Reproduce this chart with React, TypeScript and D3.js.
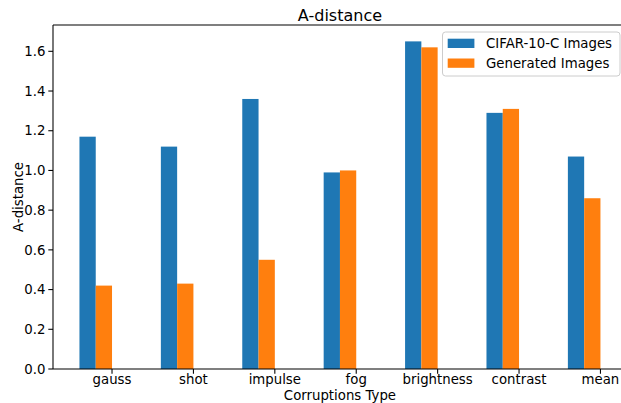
import React from "react";
import * as d3 from "d3";

const categories = ["gauss", "shot", "impulse", "fog", "brightness", "contrast", "mean"];
const cifarValues = [1.17, 1.12, 1.36, 0.99, 1.65, 1.29, 1.07];
const generatedValues = [0.42, 0.43, 0.55, 1.0, 1.62, 1.31, 0.86];
const yTicks = [0, 0.2, 0.4, 0.6, 0.8, 1.0, 1.2, 1.4, 1.6];
const seriesNames = ["CIFAR-10-C Images", "Generated Images"];
const colors = ["#1f77b4", "#ff7f0e"];

const W = 621;
const H = 403;
const left = 53;
const right = 626.9;
const top = 25;
const bottom = 369;
const barW = 0.2;
const font = "DejaVu Sans, sans-serif";

export default function App() {
  const x = d3.scaleLinear().domain([-0.725, 6.325]).range([left, right]);
  const y = d3.scaleLinear().domain([0, 1.7325]).range([bottom, top]);
  const fmt = d3.format(".1f");
  const series = [cifarValues, generatedValues];

  return (
    <svg
      width={W}
      height={H}
      style={{ position: "absolute", left: 0, top: 0, background: "#fff" }}
      fontFamily={font}
    >
      <rect x={0} y={0} width={W} height={H} fill="#fff" />
      {/* bars */}
      {series.map((vals, s) =>
        vals.map((v, i) => {
          const x0 = x(i - 0.4 + s * barW);
          const x1 = x(i - 0.4 + (s + 1) * barW);
          return (
            <rect
              key={`${s}-${i}`}
              x={x0}
              y={y(v)}
              width={x1 - x0}
              height={y(0) - y(v)}
              fill={colors[s]}
            />
          );
        })
      )}
      {/* spines */}
      <line x1={left} x2={right} y1={bottom} y2={bottom} stroke="#000" strokeWidth={1.07} />
      <line x1={left} x2={right} y1={top} y2={top} stroke="#000" strokeWidth={1.07} />
      <line x1={left} x2={left} y1={top} y2={bottom} stroke="#000" strokeWidth={1.07} />
      <line x1={right} x2={right} y1={top} y2={bottom} stroke="#000" strokeWidth={1.07} />
      {/* y ticks */}
      {yTicks.map((t) => (
        <g key={t}>
          <line x1={left - 4.7} x2={left} y1={y(t)} y2={y(t)} stroke="#000" strokeWidth={1.07} />
          <text x={left - 7.5} y={y(t)} dy="0.35em" textAnchor="end" fontSize={13.3} fill="#000">
            {fmt(t)}
          </text>
        </g>
      ))}
      {/* x ticks */}
      {categories.map((c, i) => (
        <g key={c}>
          <line x1={x(i)} x2={x(i)} y1={bottom} y2={bottom + 4.7} stroke="#000" strokeWidth={1.07} />
          <text x={x(i)} y={384} textAnchor="middle" fontSize={13.3} fill="#000">
            {c}
          </text>
        </g>
      ))}
      {/* axis labels */}
      <text x={(left + right) / 2} y={399.5} textAnchor="middle" fontSize={13.3} fill="#000">
        Corruptions Type
      </text>
      <text
        transform={`translate(23,${(top + bottom) / 2}) rotate(-90)`}
        textAnchor="middle"
        fontSize={13.3}
        fill="#000"
      >
        A-distance
      </text>
      {/* title */}
      <text x={(left + right) / 2} y={20.5} textAnchor="middle" fontSize={16} fill="#000">
        A-distance
      </text>
      {/* legend */}
      <g>
        <rect
          x={442.5}
          y={32}
          width={177.5}
          height={44}
          rx={3}
          fill="#fff"
          fillOpacity={0.8}
          stroke="#cccccc"
          strokeWidth={1}
        />
        {seriesNames.map((n, s) => (
          <g key={n}>
            <rect x={447.7} y={38.7 + s * 19.8} width={26.7} height={9.3} fill={colors[s]} />
            <text x={486} y={43.3 + s * 19.8} dy="0.35em" fontSize={13.3} fill="#000">
              {n}
            </text>
          </g>
        ))}
      </g>
    </svg>
  );
}
